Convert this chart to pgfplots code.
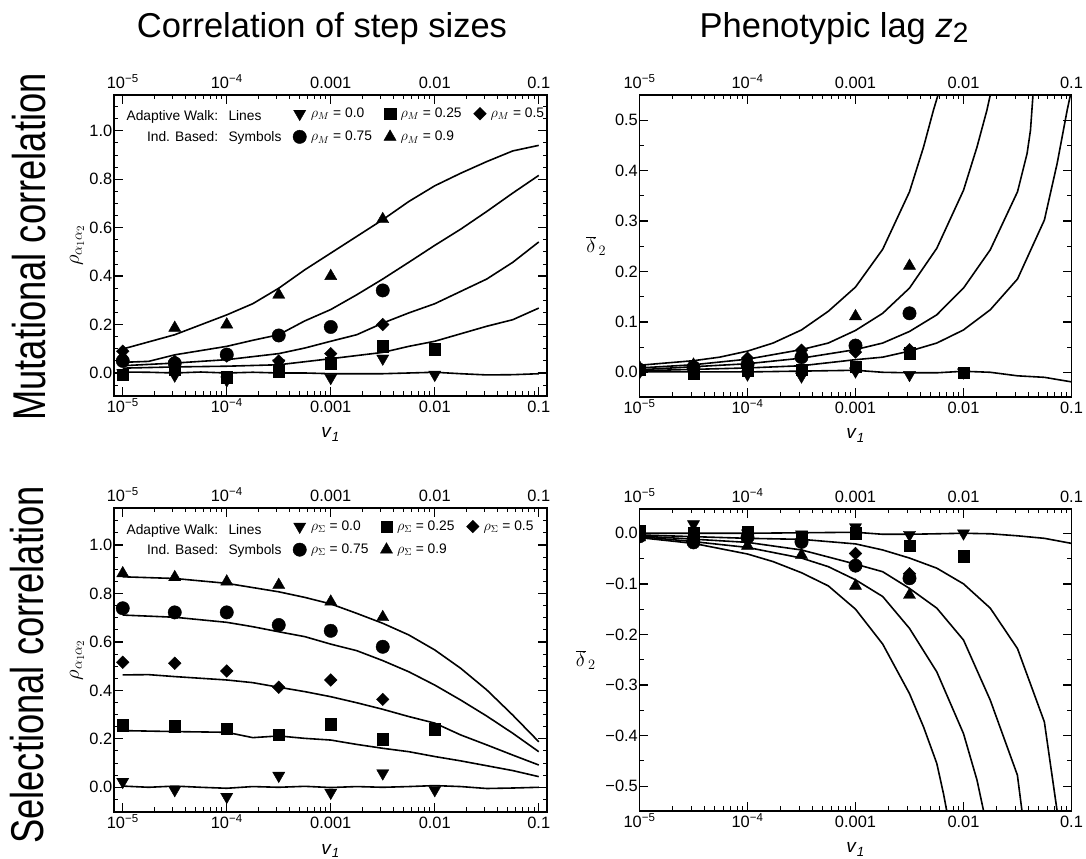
\documentclass[border=0pt]{standalone}
\usepackage{fontspec}
\setmainfont{Liberation Sans}
\usepackage{pgfplots}
\pgfplotsset{compat=1.18}

\newcommand{\tickfont}{\fontsize{16.4bp}{19bp}\selectfont}
\newcommand{\legfont}{\fontsize{13.8bp}{16bp}\selectfont\rule[-6bp]{0pt}{11bp}}
\newcommand{\txtfont}{\fontsize{13.8bp}{16bp}\selectfont}
\newcommand{\labfont}{\fontsize{19bp}{22bp}\selectfont}
\newcommand{\ylabfont}{\fontsize{22bp}{26bp}\selectfont}
\newcommand{\vlab}{\textit{v}\textsubscript{\textit{1}}}

\begin{document}
\begin{tikzpicture}
\useasboundingbox (0,0) rectangle (1086bp,859bp);

% titles
\node[anchor=base, font=\fontsize{34.5bp}{40bp}\selectfont] at (322bp,821bp) {Correlation of step sizes};
\node[anchor=base, font=\fontsize{34.5bp}{40bp}\selectfont] at (834bp,821bp) {Phenotypic lag \textit{z}\raisebox{-4.7bp}{\fontsize{28bp}{28bp}\selectfont 2}};
\node[anchor=base, rotate=90, font=\fontsize{46bp}{50bp}\selectfont] at (45bp,612bp) {\scalebox{0.79}[1]{Mutational correlation}};
\node[anchor=base, rotate=90, font=\fontsize{46bp}{50bp}\selectfont] at (43bp,194bp) {\scalebox{0.79}[1]{Selectional correlation}};

% ================= top left =================
\begin{axis}[
  scale only axis, xmode=log, log basis x=10,
  tick align=inside, major tick length=9bp, minor tick length=4.5bp,
  axis line style={line width=1.6bp},
  major tick style={line width=1.3bp, black}, minor tick style={line width=1bp, black},
  xtick={1e-5,1e-4,1e-3,1e-2,1e-1},
  xticklabels={10\textsuperscript{−5},10\textsuperscript{−4},0.001,0.01,0.1},
  minor xtick={2e-5,3e-5,4e-5,5e-5,6e-5,7e-5,8e-5,9e-5,2e-4,3e-4,4e-4,5e-4,6e-4,7e-4,8e-4,9e-4,0.002,0.003,0.004,0.005,0.006,0.007,0.008,0.009,0.02,0.03,0.04,0.05,0.06,0.07,0.08,0.09},
  tick label style={font=\tickfont},
  xticklabel style={anchor=base, yshift=-16.5bp, inner sep=0pt},
  yticklabel style={anchor=east, inner xsep=1.5bp},
  xlabel={\vlab}, label style={font=\labfont},
  legend columns=3, legend cell align=left,
  legend image code/.code={\draw[#1] plot coordinates {(0bp,0bp)};},
  legend style={draw=none, fill=none, inner sep=0pt, anchor=north west, row sep=8bp,
    /tikz/every even column/.append style={column sep=10bp},
    /tikz/every odd column/.append style={column sep=2.5bp},
    at={(rel axis cs:0.413,0.9635)}},
  at={(114bp,463bp)}, anchor=south west, width=433bp, height=301bp,
  xmin=8.24e-6, xmax=0.12, ymin=-0.095, ymax=1.148,
  ytick={0,0.2,0.4,0.6,0.8,1.0}, yticklabels={0.0,0.2,0.4,0.6,0.8,1.0},
  minor ytick={-0.05,0.05,0.1,0.15,0.25,0.3,0.35,0.45,0.5,0.55,0.65,0.7,0.75,0.85,0.9,0.95,1.05,1.1},
  ylabel={\ylabfont$\rho_{\alpha_1\alpha_2}$},
  ylabel style={at={(axis description cs:-0.0855,0.5)}, anchor=center},
  xlabel style={at={(axis description cs:0.5,-0.1395)}, anchor=base},
]
\addplot[black, line width=1.6bp, no markers, forget plot] coordinates {(1e-5,0.099) (3.162e-5,0.158) (1e-4,0.24) (1.778e-4,0.286) (3.162e-4,0.35) (5.623e-4,0.426) (1e-3,0.495) (1.778e-3,0.564) (3.162e-3,0.633) (5.623e-3,0.708) (1e-2,0.773) (1.778e-2,0.825) (3.162e-2,0.873) (5.623e-2,0.917) (0.1,0.94)};
\addplot[black, line width=1.6bp, no markers, forget plot] coordinates {(1e-5,0.044) (1.778e-5,0.048) (3.162e-5,0.075) (1e-4,0.11) (1.778e-4,0.135) (3.162e-4,0.158) (5.623e-4,0.215) (1e-3,0.262) (1.778e-3,0.323) (3.162e-3,0.388) (5.623e-3,0.457) (1e-2,0.527) (1.778e-2,0.594) (3.162e-2,0.667) (5.623e-2,0.743) (0.1,0.816)};
\addplot[black, line width=1.6bp, no markers, forget plot] coordinates {(1e-5,0.03) (3.162e-5,0.041) (1e-4,0.055) (3.162e-4,0.08) (5.623e-4,0.103) (1e-3,0.131) (1.778e-3,0.158) (3.162e-3,0.206) (5.623e-3,0.248) (1e-2,0.286) (1.778e-2,0.337) (3.162e-2,0.388) (5.623e-2,0.457) (0.1,0.541)};
\addplot[black, line width=1.6bp, no markers, forget plot] coordinates {(1e-5,0.02) (3.162e-5,0.025) (1e-4,0.028) (3.162e-4,0.034) (1e-3,0.059) (1.778e-3,0.072) (3.162e-3,0.085) (5.623e-3,0.11) (1e-2,0.131) (1.778e-2,0.162) (3.162e-2,0.193) (5.623e-2,0.22) (0.1,0.268)};
\addplot[black, line width=1.6bp, no markers, forget plot] coordinates {(1e-5,0.004) (1.778e-5,0.003) (3.162e-5,0) (5.623e-5,0.004) (1e-4,0) (1.778e-4,0.003) (3.162e-4,0) (5.623e-4,0) (1e-3,-0.003) (3.162e-3,-0.003) (5.623e-3,0) (1e-2,0.003) (1.778e-2,-0.003) (3.162e-2,-0.008) (5.623e-2,-0.007) (0.1,-0.003)};
\addplot[black, only marks, mark=triangle*, mark size=7bp, mark options={rotate=180, fill=black}] coordinates {(1e-5,0.0) (3.162e-5,-0.01) (1e-4,-0.03) (3.162e-4,0.04) (1e-3,-0.02) (3.162e-3,0.06) (1e-2,-0.007)};
\addlegendentry{\legfont$\rho_M$ = 0.0}
\addplot[black, only marks, mark=square*, mark size=5.7bp, mark options={fill=black}] coordinates {(1e-5,-0.007) (3.162e-5,0.015) (1e-4,-0.018) (3.162e-4,0.008) (1e-3,0.041) (3.162e-3,0.11) (1e-2,0.099)};
\addlegendentry{\legfont$\rho_M$ = 0.25}
\addplot[black, only marks, mark=diamond*, mark size=6.3bp, mark options={xscale=1.33, fill=black}] coordinates {(1e-5,0.09) (3.162e-5,0.048) (1e-4,0.07) (3.162e-4,0.05) (1e-3,0.08) (3.162e-3,0.2)};
\addlegendentry{\legfont$\rho_M$ = 0.5}
\addplot[black, only marks, mark=*, mark size=6.7bp, mark options={fill=black}] coordinates {(1e-5,0.05) (3.162e-5,0.04) (1e-4,0.076) (3.162e-4,0.155) (1e-3,0.19) (3.162e-3,0.341)};
\addlegendentry{\legfont$\rho_M$ = 0.75}
\addplot[black, only marks, mark=triangle*, mark size=7bp, mark options={fill=black}] coordinates {(1e-5,0.07) (3.162e-5,0.186) (1e-4,0.2) (3.162e-4,0.323) (1e-3,0.40) (3.162e-3,0.635)};
\addlegendentry{\legfont$\rho_M$ = 0.9}
\end{axis}
\begin{axis}[scale only axis, xmode=log, axis x line*=top, axis y line=none,
  xtick={1e-5,1e-4,1e-3,1e-2,1e-1},
  xticklabels={10\textsuperscript{−5},10\textsuperscript{−4},0.001,0.01,0.1},
  major tick length=0pt, minor tick length=0pt, tick label style={font=\tickfont},
  xticklabel style={anchor=base, yshift=6.7bp, inner sep=0pt}, axis line style={line width=1.6bp},
  at={(114bp,463bp)}, anchor=south west, width=433bp, height=301bp,
  xmin=8.24e-6, xmax=0.12, ymin=-0.095, ymax=1.148]
\end{axis}
\node[anchor=base east, inner sep=0pt, font=\txtfont] at (218.3bp,738.3bp) {Adaptive Walk:};
\node[anchor=base west, inner sep=0pt, font=\txtfont] at (228.3bp,738.3bp) {Lines};
\node[anchor=base east, inner sep=0pt, font=\txtfont] at (218.3bp,717.3bp) {Ind. Based:};
\node[anchor=base west, inner sep=0pt, font=\txtfont] at (228.3bp,717.3bp) {Symbols};

% ================= top right =================
\begin{axis}[
  scale only axis, xmode=log, log basis x=10,
  tick align=inside, major tick length=9bp, minor tick length=4.5bp,
  axis line style={line width=1.6bp},
  major tick style={line width=1.3bp, black}, minor tick style={line width=1bp, black},
  xtick={1e-5,1e-4,1e-3,1e-2,1e-1},
  xticklabels={10\textsuperscript{−5},10\textsuperscript{−4},0.001,0.01,0.1},
  minor xtick={2e-5,3e-5,4e-5,5e-5,6e-5,7e-5,8e-5,9e-5,2e-4,3e-4,4e-4,5e-4,6e-4,7e-4,8e-4,9e-4,0.002,0.003,0.004,0.005,0.006,0.007,0.008,0.009,0.02,0.03,0.04,0.05,0.06,0.07,0.08,0.09},
  tick label style={font=\tickfont},
  xticklabel style={anchor=base, yshift=-16.5bp, inner sep=0pt},
  yticklabel style={anchor=east, inner xsep=1.5bp},
  clip marker paths=true,
  xlabel={\vlab}, label style={font=\labfont},
  at={(639.5bp,462bp)}, anchor=south west, width=432bp, height=302bp,
  xmin=1e-5, xmax=0.1, ymin=-0.049, ymax=0.55,
  ytick={0,0.1,0.2,0.3,0.4,0.5}, yticklabels={0.0,0.1,0.2,0.3,0.4,0.5},
  minor ytick={0.05,0.15,0.25,0.35,0.45},
  ylabel={\ylabfont$\overline{\delta}_{\,2}$},
  ylabel style={at={(axis description cs:-0.1,0.5)}, anchor=center, rotate=-90},
  xlabel style={at={(axis description cs:0.5,-0.139)}, anchor=base},
]
\addplot[black, line width=1.6bp, no markers] coordinates {(1e-5,0.014) (3.162e-5,0.023) (5.52e-5,0.03) (1e-4,0.042) (1.726e-4,0.058) (3.162e-4,0.084) (5.6e-4,0.121) (1e-3,0.169) (1.786e-3,0.244) (3.162e-3,0.358) (4.27e-3,0.447) (5.27e-3,0.52) (6.4e-3,0.58)};
\addplot[black, line width=1.6bp, no markers] coordinates {(1e-5,0.0086) (3.162e-5,0.015) (1e-4,0.026) (3.162e-4,0.045) (5.6e-4,0.058) (1e-3,0.083) (1.786e-3,0.117) (3.162e-3,0.167) (5.66e-3,0.246) (1e-2,0.361) (1.334e-2,0.447) (1.648e-2,0.52) (1.9e-2,0.58)};
\addplot[black, line width=1.6bp, no markers] coordinates {(1e-5,0.005) (1e-4,0.017) (3.162e-4,0.028) (1e-3,0.045) (1.786e-3,0.058) (3.162e-3,0.081) (5.66e-3,0.114) (1e-2,0.167) (1.77e-2,0.243) (3.162e-2,0.358) (3.88e-2,0.434) (4.17e-2,0.48) (4.4e-2,0.55) (4.6e-2,0.58)};
\addplot[black, line width=1.6bp, no markers] coordinates {(1e-5,0.003) (1e-4,0.0086) (3.162e-4,0.013) (1e-3,0.025) (1.786e-3,0.03) (3.162e-3,0.042) (5.66e-3,0.058) (1e-2,0.084) (1.77e-2,0.124) (3.162e-2,0.185) (5.61e-2,0.302) (7.36e-2,0.414) (9.12e-2,0.52) (0.1,0.56)};
\addplot[black, line width=1.6bp, no markers] coordinates {(1e-5,0.001) (1e-4,0.0007) (1e-3,0.004) (1.786e-3,0) (3.162e-3,-0.001) (5.66e-3,-0.001) (1e-2,0.002) (1.77e-2,0) (3.162e-2,-0.007) (5.61e-2,-0.01) (0.1,-0.019)};
\addplot[black, only marks, mark=triangle*, mark size=7bp, mark options={rotate=180, fill=black}] coordinates {(1e-5,0.0) (3.162e-5,0.0) (1e-4,-0.004) (3.162e-4,-0.008) (1e-3,0.002) (3.162e-3,-0.005) (1e-2,0.0)};
\addplot[black, only marks, mark=square*, mark size=5.7bp, mark options={fill=black}] coordinates {(1e-5,0.005) (3.162e-5,-0.003) (1e-4,0.003) (3.162e-4,0.005) (1e-3,0.011) (3.162e-3,0.038) (1e-2,-0.001)};
\addplot[black, only marks, mark=diamond*, mark size=6.3bp, mark options={xscale=1.33, fill=black}] coordinates {(1e-5,0.006) (3.162e-5,0.006) (1e-4,0.028) (3.162e-4,0.044) (1e-3,0.04) (3.162e-3,0.045)};
\addplot[black, only marks, mark=*, mark size=6.7bp, mark options={fill=black}] coordinates {(1e-5,0.005) (3.162e-5,0.01) (1e-4,0.015) (3.162e-4,0.03) (1e-3,0.053) (3.162e-3,0.117)};
\addplot[black, only marks, mark=triangle*, mark size=7bp, mark options={fill=black}] coordinates {(1e-5,0.01) (3.162e-5,0.015) (1e-4,0.02) (3.162e-4,0.035) (1e-3,0.111) (3.162e-3,0.211)};
\end{axis}
\begin{axis}[scale only axis, xmode=log, axis x line*=top, axis y line=none,
  xtick={1e-5,1e-4,1e-3,1e-2,1e-1},
  xticklabels={10\textsuperscript{−5},10\textsuperscript{−4},0.001,0.01,0.1},
  major tick length=0pt, minor tick length=0pt, tick label style={font=\tickfont},
  xticklabel style={anchor=base, yshift=6.7bp, inner sep=0pt}, axis line style={line width=1.6bp},
  at={(639.5bp,462bp)}, anchor=south west, width=432bp, height=302bp,
  xmin=1e-5, xmax=0.1, ymin=-0.049, ymax=0.55]
\end{axis}

% ================= bottom left =================
\begin{axis}[
  scale only axis, xmode=log, log basis x=10,
  tick align=inside, major tick length=9bp, minor tick length=4.5bp,
  axis line style={line width=1.6bp},
  major tick style={line width=1.3bp, black}, minor tick style={line width=1bp, black},
  xtick={1e-5,1e-4,1e-3,1e-2,1e-1},
  xticklabels={10\textsuperscript{−5},10\textsuperscript{−4},0.001,0.01,0.1},
  minor xtick={2e-5,3e-5,4e-5,5e-5,6e-5,7e-5,8e-5,9e-5,2e-4,3e-4,4e-4,5e-4,6e-4,7e-4,8e-4,9e-4,0.002,0.003,0.004,0.005,0.006,0.007,0.008,0.009,0.02,0.03,0.04,0.05,0.06,0.07,0.08,0.09},
  tick label style={font=\tickfont},
  xticklabel style={anchor=base, yshift=-16.5bp, inner sep=0pt},
  yticklabel style={anchor=east, inner xsep=1.5bp},
  xlabel={\vlab}, label style={font=\labfont},
  legend columns=3, legend cell align=left,
  legend image code/.code={\draw[#1] plot coordinates {(0bp,0bp)};},
  legend style={draw=none, fill=none, inner sep=0pt, anchor=north west, row sep=8bp,
    /tikz/every even column/.append style={column sep=10bp},
    /tikz/every odd column/.append style={column sep=2.5bp},
    at={(rel axis cs:0.413,0.9645)}},
  at={(114bp,47bp)}, anchor=south west, width=433bp, height=304bp,
  xmin=8.24e-6, xmax=0.12, ymin=-0.102, ymax=1.153,
  ytick={0,0.2,0.4,0.6,0.8,1.0}, yticklabels={0.0,0.2,0.4,0.6,0.8,1.0},
  minor ytick={-0.05,0.05,0.1,0.15,0.25,0.3,0.35,0.45,0.5,0.55,0.65,0.7,0.75,0.85,0.9,0.95,1.05,1.1,1.15},
  ylabel={\ylabfont$\rho_{\alpha_1\alpha_2}$},
  ylabel style={at={(axis description cs:-0.0855,0.5)}, anchor=center},
  xlabel style={at={(axis description cs:0.5,-0.139)}, anchor=base},
]
\addplot[black, line width=1.6bp, no markers, forget plot] coordinates {(1e-5,0.869) (3.162e-5,0.862) (1e-4,0.842) (3.162e-4,0.807) (5.623e-4,0.784) (1e-3,0.757) (1.778e-3,0.718) (3.162e-3,0.677) (5.623e-3,0.629) (1e-2,0.567) (1.778e-2,0.491) (3.162e-2,0.402) (5.623e-2,0.298) (0.1,0.188)};
\addplot[black, line width=1.6bp, no markers, forget plot] coordinates {(1e-5,0.711) (3.162e-5,0.702) (1e-4,0.681) (1.778e-4,0.663) (3.162e-4,0.642) (5.623e-4,0.622) (1e-3,0.591) (1.778e-3,0.564) (3.162e-3,0.523) (5.623e-3,0.477) (1e-2,0.422) (1.778e-2,0.36) (3.162e-2,0.294) (5.623e-2,0.223) (0.1,0.147)};
\addplot[black, line width=1.6bp, no markers, forget plot] coordinates {(1e-5,0.464) (1.778e-5,0.465) (3.162e-5,0.457) (1e-4,0.443) (1.778e-4,0.432) (3.162e-4,0.413) (5.623e-4,0.395) (1e-3,0.374) (1.778e-3,0.349) (3.162e-3,0.322) (5.623e-3,0.292) (1e-2,0.265) (1.778e-2,0.216) (3.162e-2,0.175) (5.623e-2,0.133) (0.1,0.092)};
\addplot[black, line width=1.6bp, no markers, forget plot] coordinates {(1e-5,0.234) (3.162e-5,0.23) (1e-4,0.227) (1.778e-4,0.205) (3.162e-4,0.212) (5.623e-4,0.202) (1e-3,0.195) (1.778e-3,0.177) (3.162e-3,0.161) (5.623e-3,0.147) (1e-2,0.127) (1.778e-2,0.109) (3.162e-2,0.089) (5.623e-2,0.069) (0.1,0.044)};
\addplot[black, line width=1.6bp, no markers, forget plot] coordinates {(1e-5,0.005) (1.778e-5,0) (3.162e-5,0.005) (5.623e-5,0) (1e-4,-0.004) (1.778e-4,0.003) (3.162e-4,0) (5.623e-4,0.004) (1e-3,-0.001) (1.778e-3,0.003) (3.162e-3,0) (5.623e-3,0.003) (1e-2,0.007) (1.778e-2,0.003) (3.162e-2,-0.005) (5.623e-2,-0.003) (0.1,0)};
\addplot[black, only marks, mark=triangle*, mark size=7bp, mark options={rotate=180, fill=black}] coordinates {(1e-5,0.023) (3.162e-5,-0.011) (1e-4,-0.039) (3.162e-4,0.048) (1e-3,-0.022) (3.162e-3,0.058) (1e-2,-0.011)};
\addlegendentry{\legfont$\rho_\Sigma$ = 0.0}
\addplot[black, only marks, mark=square*, mark size=5.7bp, mark options={fill=black}] coordinates {(1e-5,0.257) (3.162e-5,0.253) (1e-4,0.243) (3.162e-4,0.216) (1e-3,0.261) (3.162e-3,0.198) (1e-2,0.239)};
\addlegendentry{\legfont$\rho_\Sigma$ = 0.25}
\addplot[black, only marks, mark=diamond*, mark size=6.3bp, mark options={xscale=1.33, fill=black}] coordinates {(1e-5,0.516) (3.162e-5,0.512) (1e-4,0.48) (3.162e-4,0.413) (1e-3,0.443) (3.162e-3,0.363)};
\addlegendentry{\legfont$\rho_\Sigma$ = 0.5}
\addplot[black, only marks, mark=*, mark size=6.7bp, mark options={fill=black}] coordinates {(1e-5,0.739) (3.162e-5,0.722) (1e-4,0.722) (3.162e-4,0.67) (1e-3,0.646) (3.162e-3,0.58)};
\addlegendentry{\legfont$\rho_\Sigma$ = 0.75}
\addplot[black, only marks, mark=triangle*, mark size=7bp, mark options={fill=black}] coordinates {(1e-5,0.883) (3.162e-5,0.867) (1e-4,0.849) (3.162e-4,0.835) (1e-3,0.766) (3.162e-3,0.702)};
\addlegendentry{\legfont$\rho_\Sigma$ = 0.9}
\end{axis}
\begin{axis}[scale only axis, xmode=log, axis x line*=top, axis y line=none,
  xtick={1e-5,1e-4,1e-3,1e-2,1e-1},
  xticklabels={10\textsuperscript{−5},10\textsuperscript{−4},0.001,0.01,0.1},
  major tick length=0pt, minor tick length=0pt, tick label style={font=\tickfont},
  xticklabel style={anchor=base, yshift=6.7bp, inner sep=0pt}, axis line style={line width=1.6bp},
  at={(114bp,47bp)}, anchor=south west, width=433bp, height=304bp,
  xmin=8.24e-6, xmax=0.12, ymin=-0.102, ymax=1.153]
\end{axis}
\node[anchor=base east, inner sep=0pt, font=\txtfont] at (218.3bp,324.7bp) {Adaptive Walk:};
\node[anchor=base west, inner sep=0pt, font=\txtfont] at (228.3bp,324.7bp) {Lines};
\node[anchor=base east, inner sep=0pt, font=\txtfont] at (218.3bp,304bp) {Ind. Based:};
\node[anchor=base west, inner sep=0pt, font=\txtfont] at (228.3bp,304bp) {Symbols};

% ================= bottom right =================
\begin{axis}[
  scale only axis, xmode=log, log basis x=10,
  tick align=inside, major tick length=9bp, minor tick length=4.5bp,
  axis line style={line width=1.6bp},
  major tick style={line width=1.3bp, black}, minor tick style={line width=1bp, black},
  xtick={1e-5,1e-4,1e-3,1e-2,1e-1},
  xticklabels={10\textsuperscript{−5},10\textsuperscript{−4},0.001,0.01,0.1},
  minor xtick={2e-5,3e-5,4e-5,5e-5,6e-5,7e-5,8e-5,9e-5,2e-4,3e-4,4e-4,5e-4,6e-4,7e-4,8e-4,9e-4,0.002,0.003,0.004,0.005,0.006,0.007,0.008,0.009,0.02,0.03,0.04,0.05,0.06,0.07,0.08,0.09},
  tick label style={font=\tickfont},
  xticklabel style={anchor=base, yshift=-16.5bp, inner sep=0pt},
  yticklabel style={anchor=east, inner xsep=1.5bp},
  clip marker paths=true,
  xlabel={\vlab}, label style={font=\labfont},
  at={(639.5bp,48bp)}, anchor=south west, width=432bp, height=302bp,
  xmin=1e-5, xmax=0.1, ymin=-0.549, ymax=0.048,
  ytick={-0.5,-0.4,-0.3,-0.2,-0.1,0}, yticklabels={−0.5,−0.4,−0.3,−0.2,−0.1,0.0},
  minor ytick={-0.45,-0.35,-0.25,-0.15,-0.05},
  ylabel={\ylabfont$\overline{\delta}_{\,2}$},
  ylabel style={at={(axis description cs:-0.1243,0.5)}, anchor=center, rotate=-90},
  xlabel style={at={(axis description cs:0.5,-0.139)}, anchor=base},
]
\addplot[black, line width=1.6bp, no markers] coordinates {(1e-5,-0.0086) (3.162e-5,-0.02) (1e-4,-0.041) (1.726e-4,-0.056) (3.162e-4,-0.078) (5.6e-4,-0.104) (1e-3,-0.15) (1.786e-3,-0.219) (3.162e-3,-0.317) (4.27e-3,-0.383) (5.66e-3,-0.455) (6.53e-3,-0.515) (7.0e-3,-0.549) (7.5e-3,-0.58)};
\addplot[black, line width=1.6bp, no markers] coordinates {(1e-5,-0.0066) (3.162e-5,-0.0165) (1e-4,-0.028) (3.162e-4,-0.049) (5.6e-4,-0.066) (1e-3,-0.092) (1.786e-3,-0.125) (3.162e-3,-0.188) (5.66e-3,-0.274) (1e-2,-0.396) (1.334e-2,-0.488) (1.535e-2,-0.549) (1.65e-2,-0.58)};
\addplot[black, line width=1.6bp, no markers] coordinates {(1e-5,-0.0053) (1e-4,-0.018) (3.162e-4,-0.033) (1e-3,-0.061) (1.786e-3,-0.076) (3.162e-3,-0.109) (5.66e-3,-0.148) (1e-2,-0.211) (1.77e-2,-0.33) (3.155e-2,-0.478) (3.48e-2,-0.549) (3.6e-2,-0.58)};
\addplot[black, line width=1.6bp, no markers] coordinates {(1e-5,-0.0033) (1e-4,-0.01) (3.162e-4,-0.012) (1e-3,-0.021) (1.786e-3,-0.033) (3.162e-3,-0.049) (5.66e-3,-0.069) (1e-2,-0.1) (1.77e-2,-0.148) (3.162e-2,-0.228) (5.61e-2,-0.373) (7.36e-2,-0.549) (7.5e-2,-0.58)};
\addplot[black, line width=1.6bp, no markers] coordinates {(1e-5,0) (1e-4,0) (3.162e-4,0.001) (1e-3,0.002) (1.786e-3,-0.002) (3.162e-3,-0.002) (5.66e-3,-0.001) (1e-2,0) (1.77e-2,-0.001) (3.162e-2,-0.005) (5.61e-2,-0.01) (0.1,-0.02)};
\addplot[black, only marks, mark=triangle*, mark size=7bp, mark options={rotate=180, fill=black}] coordinates {(1e-5,0.0) (3.162e-5,0.018) (1e-4,0.0) (3.162e-4,-0.002) (1e-3,0.012) (3.162e-3,-0.003) (1e-2,0.0)};
\addplot[black, only marks, mark=square*, mark size=5.7bp, mark options={fill=black}] coordinates {(1e-5,0.005) (3.162e-5,0.001) (1e-4,0.002) (3.162e-4,-0.008) (1e-3,0.0) (3.162e-3,-0.025) (1e-2,-0.045)};
\addplot[black, only marks, mark=diamond*, mark size=6.3bp, mark options={xscale=1.33, fill=black}] coordinates {(1e-5,-0.004) (3.162e-5,-0.008) (1e-4,-0.008) (3.162e-4,-0.015) (1e-3,-0.04) (3.162e-3,-0.08)};
\addplot[black, only marks, mark=*, mark size=6.7bp, mark options={fill=black}] coordinates {(1e-5,-0.006) (3.162e-5,-0.018) (1e-4,-0.008) (3.162e-4,-0.017) (1e-3,-0.064) (3.162e-3,-0.089)};
\addplot[black, only marks, mark=triangle*, mark size=7bp, mark options={fill=black}] coordinates {(1e-5,-0.008) (3.162e-5,-0.015) (1e-4,-0.025) (3.162e-4,-0.043) (1e-3,-0.104) (3.162e-3,-0.122)};
\end{axis}
\begin{axis}[scale only axis, xmode=log, axis x line*=top, axis y line=none,
  xtick={1e-5,1e-4,1e-3,1e-2,1e-1},
  xticklabels={10\textsuperscript{−5},10\textsuperscript{−4},0.001,0.01,0.1},
  major tick length=0pt, minor tick length=0pt, tick label style={font=\tickfont},
  xticklabel style={anchor=base, yshift=6.7bp, inner sep=0pt}, axis line style={line width=1.6bp},
  at={(639.5bp,48bp)}, anchor=south west, width=432bp, height=302bp,
  xmin=1e-5, xmax=0.1, ymin=-0.549, ymax=0.048]
\end{axis}
\end{tikzpicture}
\end{document}
